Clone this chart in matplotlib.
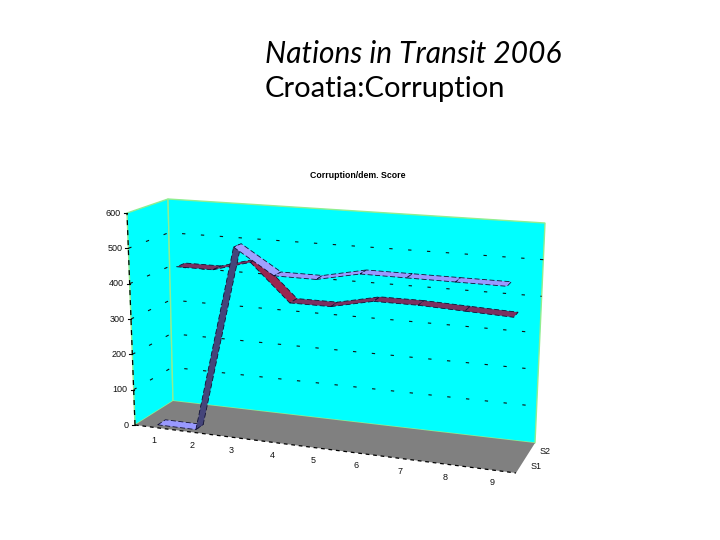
import numpy as np
import matplotlib
matplotlib.use('Agg')
import matplotlib.pyplot as plt
from matplotlib.patches import Polygon

# chart data
#------------------------------------------------------------------------------
categories = ['1', '2', '3', '4', '5', '6', '7', '8', '9']
series_names = ['S1', 'S2']
s1_values = [0, 0, 520, 450, 450, 475, 475, 475, 475]
s2_values = [425, 425, 455, 350, 350, 375, 375, 370, 365]
y_ticks = [0, 100, 200, 300, 400, 500, 600]
title_lines = ['Nations in Transit 2006', 'Croatia:Corruption']
chart_title = 'Corruption/dem. Score'
#------------------------------------------------------------------------------

# box corners in figure pixels
FLOOR = np.array([[135, 425], [516, 473], [535, 443], [173, 401]], float)
TOP = np.array([[127, 213], [526, 243], [545, 223], [168, 199]], float)
Y_MAX = 600.0
RIBBON_LEAN = 10.0  # the ribbons lean less to the left than the walls do


def homography(corners):
    src = [(0, 0), (1, 0), (1, 1), (0, 1)]
    a, b = [], []
    for (u, d), (x, y) in zip(src, corners):
        a.append([u, d, 1, 0, 0, 0, -u * x, -d * x])
        a.append([0, 0, 0, u, d, 1, -u * y, -d * y])
        b += [x, y]
    return np.append(np.linalg.solve(np.array(a), np.array(b)), 1).reshape(3, 3)


H_FLOOR = homography(FLOOR)
H_TOP = homography(TOP)


def project(u, d, value):
    p = np.array([u, d, 1.0])
    low = H_FLOOR @ p
    high = H_TOP @ p
    t = value / Y_MAX
    return (1 - t) * low[:2] / low[2] + t * high[:2] / high[2]


def cat_u(i):
    return (i + 0.5) / len(categories)


def ribbon_point(u, d, value):
    return project(u, d, value) + np.array([RIBBON_LEAN * value / Y_MAX, 0])


def draw_ribbon(ax, values, d0, d1, up_color, down_color, flat_color):
    for i in range(len(values) - 1):
        v0, v1 = values[i], values[i + 1]
        u0, u1 = cat_u(i), cat_u(i + 1)
        quad = [ribbon_point(u0, d0, v0), ribbon_point(u1, d0, v1),
                ribbon_point(u1, d1, v1), ribbon_point(u0, d1, v0)]
        if v1 - v0 > 60:
            color = up_color
        elif v0 - v1 > 60:
            color = down_color
        else:
            color = flat_color
        ax.add_patch(Polygon(quad, closed=True, facecolor=color, edgecolor='#111133',
                             lw=0.6, ls=(0, (6, 3)), zorder=4))


fig = plt.figure(figsize=(7.2, 5.4), dpi=100)
ax = fig.add_axes([0, 0, 1, 1])
ax.set_xlim(0, 720)
ax.set_ylim(540, 0)
ax.axis('off')

# walls and floor
ax.add_patch(Polygon([FLOOR[0], FLOOR[3], TOP[3], TOP[0]], facecolor='#00ffff', edgecolor='#90ee90', lw=1, zorder=1))
ax.add_patch(Polygon([FLOOR[3], FLOOR[2], TOP[2], TOP[3]], facecolor='#00ffff', edgecolor='#90ee90', lw=1, zorder=1))
ax.add_patch(Polygon(FLOOR, facecolor='#808080', edgecolor='none', zorder=2))

# dotted gridlines on the walls
for v in y_ticks[1:-1]:
    pts = np.array([project(0, 0, v), project(0, 1, v), project(1, 1, v)])
    ax.plot(pts[:, 0], pts[:, 1], color='#111111', lw=0.8, ls=(0, (3, 14)), zorder=3)

# value axis
left = np.array([project(0, 0, 0), project(0, 0, Y_MAX)])
ax.plot(left[:, 0], left[:, 1], color='black', lw=0.9, ls=(0, (4, 4)), zorder=3)
for v in y_ticks:
    x, y = project(0, 0, v)
    ax.plot([x - 3, x], [y, y], color='black', lw=0.8, zorder=3)
    ax.text(x - 6, y, str(v), ha='right', va='center', fontsize=6.5, family='Liberation Sans', color='#111111')

# category axis
front = np.array([project(0, 0, 0), project(1, 0, 0)])
ax.plot(front[:, 0], front[:, 1], color='black', lw=0.9, ls=(0, (3, 3)), zorder=3)
for i, name in enumerate(categories):
    x, y = project(cat_u(i), 0, 0)
    ax.text(x, y + 13, name, ha='center', va='center', fontsize=6.5, family='Liberation Sans', color='#111111')

# series axis
for d, name in zip([0.25, 0.75], series_names):
    x, y = project(1, d, 0)
    ax.text(x + 15, y + 1, name, ha='center', va='center', fontsize=6.5, family='Liberation Sans', color='#111111')

# back series first, the front one goes over it
draw_ribbon(ax, s2_values, 0.55, 0.77, '#8b2252', '#99264f', '#7b3060')
draw_ribbon(ax, s1_values, 0.10, 0.30, '#45457a', '#a0a0ff', '#9999ff')

ax.text(358, 175, chart_title, ha='center', va='center', fontsize=6.3, weight='bold', family='Liberation Sans')
ax.text(265, 54, title_lines[0], ha='left', va='center', fontsize=21.5, style='italic', family='Lato', color='black')
ax.text(265, 89, title_lines[1], ha='left', va='center', fontsize=21, family='Lato', color='black')

fig.savefig('out.png', dpi=100)
